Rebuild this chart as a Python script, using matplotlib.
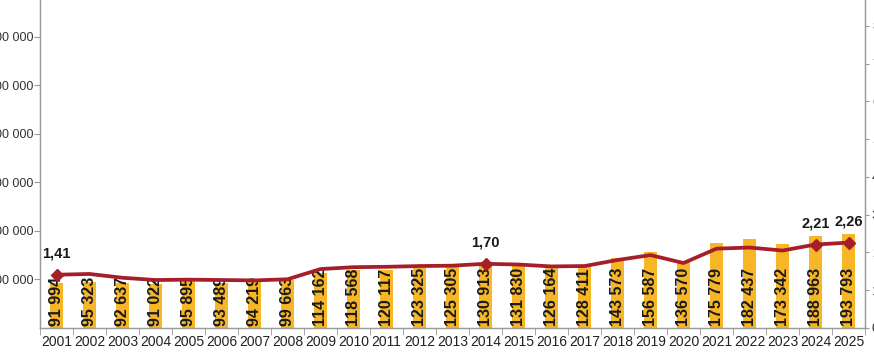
import matplotlib
matplotlib.use("Agg")
import matplotlib.pyplot as plt
import numpy as np

years = [str(y) for y in range(2001, 2026)]
counts = [91994, 95323, 92637, 91022, 95895, 93489, 94219, 99663, 114162, 118568,
          120117, 123325, 125305, 130913, 131830, 126164, 128411, 143573, 156587,
          136570, 175779, 182437, 173342, 188963, 193793]
ratio = [1.41, 1.43, 1.33, 1.27, 1.28, 1.27, 1.26, 1.29, 1.56, 1.61,
         1.62, 1.64, 1.65, 1.70, 1.68, 1.63, 1.64, 1.80, 1.93, 1.72,
         2.10, 2.13, 2.05, 2.21, 2.26]
labelled = {"2001", "2014", "2024", "2025"}

plt.rcParams["font.family"] = ["Liberation Sans", "DejaVu Sans"]

W, H = 874, 357
fig = plt.figure(figsize=(W / 100, H / 100), dpi=100)
ax = fig.add_axes([40 / W, (H - 328) / H, 825 / W, 340 / H])
ax2 = ax.twinx()

x = np.arange(len(years))
bar_c = "#F6B626"
line_c = "#A51E2A"
grey = "#9a9a9a"

ax.bar(x, counts, width=0.42, color=bar_c, zorder=2)
for xi, v in zip(x, counts):
    ax.text(xi, 5000, f"{v:,}".replace(",", " "), rotation=90, ha="center", va="bottom",
            fontsize=11.5, fontweight="bold", color="#1a1a1a", zorder=3)

ax.set_xlim(-0.5, len(years) - 0.5)
ax.set_ylim(0, 700000)
ax.set_yticks(range(100000, 700001, 100000))
ax.set_yticklabels([f"{v:,}".replace(",", " ") for v in range(100000, 700001, 100000)],
                   fontsize=9, color="#333333")
ax.set_xticks(x)
ax.set_xticklabels(years, fontsize=10, color="#222222")
ax.set_xticks(np.arange(-0.5, len(years), 1), minor=True)
ax.tick_params(axis="x", which="major", length=0, pad=5)
ax.tick_params(axis="x", which="minor", length=5, color=grey)
ax.tick_params(axis="y", length=4, color=grey, pad=1)

ax2.plot(x, ratio, color=line_c, lw=2.7, zorder=4)
idx = [i for i, y in enumerate(years) if y in labelled]
ax2.plot([x[i] for i in idx], [ratio[i] for i in idx], "D", color=line_c, ms=6.5, zorder=5)
for i in idx:
    ax2.annotate(f"{ratio[i]:.2f}".replace(".", ","), (x[i], ratio[i]), xytext=(0, 10),
                 textcoords="offset points", ha="center", va="bottom",
                 fontsize=10.5, fontweight="bold", color="#1a1a1a")
ax2.set_ylim(0, 9)
ax2.set_yticks(range(0, 10))
ax2.tick_params(axis="y", length=3, color=grey, labelsize=9.5, labelcolor="#333333", pad=2)

for a in (ax, ax2):
    a.spines["top"].set_visible(False)
    for s in ("left", "right", "bottom"):
        a.spines[s].set_color(grey)
        a.spines[s].set_linewidth(0.9)

fig.savefig("out.png", dpi=100)
